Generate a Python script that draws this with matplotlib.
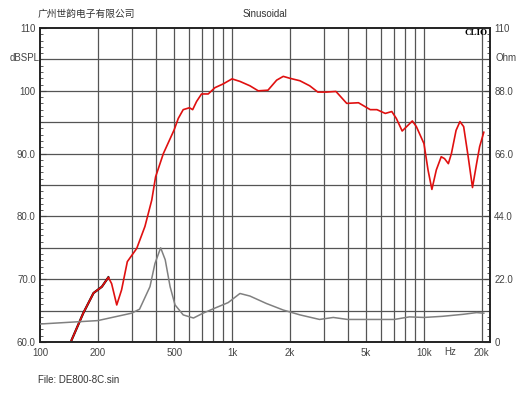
import matplotlib.pyplot as plt
from matplotlib.ticker import FixedLocator, NullFormatter, NullLocator

# SPL curve (Hz, dBSPL)
spl_freq = [146, 168, 190, 210, 227, 236, 251, 266, 285, 319, 352, 382, 400, 439,
            500, 525, 557, 600, 624, 654, 694, 752, 815, 900, 1000, 1100, 1240,
            1370, 1540, 1709, 1850, 2000, 2260, 2540, 2800, 3100, 3480, 3960, 4560,
            5250, 5690, 6290, 6800, 7180, 7700, 8250, 8700, 9130, 10000, 10500,
            11000, 11600, 12300, 12800, 13400, 13900, 14700, 15400, 16100, 17000,
            17900, 18800, 19500, 20500]
spl_db = [60.3, 64.6, 67.8, 68.8, 70.3, 69.3, 65.9, 68.3, 72.8, 74.9, 78.4, 82.6, 86.3, 90.0,
          93.8, 95.6, 97.0, 97.3, 97.0, 98.3, 99.5, 99.5, 100.5, 101.1, 101.9, 101.5, 100.8,
          100.0, 100.1, 101.7, 102.3, 102.0, 101.6, 100.8, 99.8, 99.8, 99.9, 98.0, 98.1,
          97.0, 97.0, 96.4, 96.7, 95.6, 93.6, 94.5, 95.2, 94.3, 91.6, 87.4,
          84.3, 87.4, 89.5, 89.2, 88.4, 90.0, 93.7, 95.1, 94.3, 89.5,
          84.6, 88.4, 91.1, 93.4]

# impedance curve (Hz, Ohm)
imp_freq = [100, 200, 300, 330, 374, 397, 425, 449, 476, 505, 557, 630, 707, 830, 955,
            1100, 1240, 1510, 1850, 2260, 2860, 3370, 4000, 5000, 7000, 8400, 10000,
            12500, 16000, 18800, 20500]
imp_ohm = [6.3, 7.5, 10.1, 11.5, 19.4, 27.5, 33.0, 28.8, 19.4, 13.0, 9.5, 8.4, 10.1, 12.1, 13.8,
           17.0, 16.1, 13.5, 11.2, 9.5, 7.9, 8.6, 7.9, 7.9, 7.9, 8.8, 8.6,
           9.0, 9.7, 10.3, 10.1]

x_ticks = [100, 200, 500, 1000, 2000, 5000, 10000, 20000]
x_labels = ['100', '200', '500', '1k', '2k', '5k', '10k', '20k']
y_ticks = [60, 70, 80, 90, 100, 110]
y_labels = ['60.0', '70.0', '80.0', '90.0', '100', '110']
r_ticks = [0, 22, 44, 66, 88, 110]
r_labels = ['0', '22.0', '44.0', '66.0', '88.0', '110']

plt.rcParams['font.family'] = ['Liberation Sans', 'Noto Sans CJK SC', 'DejaVu Sans']
txt = '#444444'

fig = plt.figure(figsize=(5.3, 3.98), dpi=100)
ax = fig.add_axes([0.0755, 0.1407, 0.849, 0.7889])
ax.set_xscale('log')
ax2 = ax.twinx()

ax.set_xlim(100, 22080)
ax.set_ylim(60, 110)
ax2.set_ylim(0, 110)

grid_x = [f * d for d in (100, 1000) for f in range(1, 10)] + [10000, 20000]
for gx in grid_x[1:]:
    ax.axvline(gx, color='#555555', lw=0.9, zorder=1)
for gy in range(65, 110, 5):
    ax.axhline(gy, color='#555555', lw=0.9, zorder=1)

ax.plot(spl_freq[:5], spl_db[:5], color='black', lw=1.6, zorder=3)
ax.plot(spl_freq, spl_db, color='#e01010', lw=1.2, zorder=4)
ax2.plot(imp_freq, imp_ohm, color='#808080', lw=1.1, zorder=3)

# x axis: labels only, no ticks
ax.xaxis.set_major_locator(FixedLocator(x_ticks))
ax.xaxis.set_major_formatter(plt.FixedFormatter(x_labels))
ax.xaxis.set_minor_locator(NullLocator())
ax.xaxis.set_minor_formatter(NullFormatter())
ax.tick_params(axis='x', length=0, labelsize=7, colors=txt, pad=4)
ax2.tick_params(axis='x', which='both', length=0, labelbottom=False, labeltop=False)

ax.set_yticks(y_ticks)
ax.set_yticklabels(y_labels)
ax.yaxis.set_minor_locator(FixedLocator(range(60, 111)))
ax.tick_params(axis='y', which='major', direction='in', length=4, labelsize=7, colors=txt, pad=3)
ax.tick_params(axis='y', which='minor', direction='in', length=2, color='#444444')

ax2.set_yticks(r_ticks)
ax2.set_yticklabels(r_labels)
ax2.yaxis.set_minor_locator(FixedLocator([i * 2.2 for i in range(51)]))
ax2.tick_params(axis='y', which='major', direction='in', length=4, labelsize=7, colors=txt, pad=3)
ax2.tick_params(axis='y', which='minor', direction='in', length=2, color='#444444')

for a in (ax, ax2):
    for s in a.spines.values():
        s.set_color('#222222')
        s.set_linewidth(1.2)

fig.text(38 / 530, 1 - 14 / 398, '广州世韵电子有限公司', fontsize=7, color='#333333',
         va='center', family=['Noto Sans CJK SC', 'DejaVu Sans'])
fig.text(265 / 530, 1 - 14 / 398, 'Sinusoidal', fontsize=7, color='#333333', va='center', ha='center')
fig.text(10 / 530, 1 - 58 / 398, 'dBSPL', fontsize=7, color=txt, va='center')
fig.text(496 / 530, 1 - 58 / 398, 'Ohm', fontsize=7, color=txt, va='center')
fig.text(488 / 530, 1 - 33 / 398, 'CLIO', fontsize=6.5, color='black', va='center', ha='right',
         weight='bold', family='Liberation Serif')
fig.text(450 / 530, 1 - 352 / 398, 'Hz', fontsize=7, color=txt, va='center', ha='center')
fig.text(38 / 530, 1 - 380 / 398, 'File: DE800-8C.sin', fontsize=7, color='#333333', va='center')

fig.savefig('out.png', dpi=100)
